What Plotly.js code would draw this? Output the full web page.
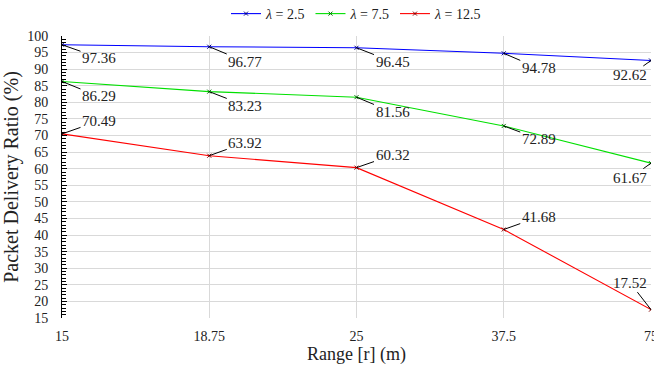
<!DOCTYPE html>
<html>
<head>
<meta charset="utf-8">
<script src="https://cdn.plot.ly/plotly-3.0.1.min.js"></script>
<style>html,body{margin:0;padding:0;background:#fff;}#chart{width:654px;height:370px;}</style>
</head>
<body>
<div id="chart"></div>
<script>
const ranges = ['15', '18.75', '25', '37.5', '75'];
const seriesNames = ['<i>λ</i> = 2.5', '<i>λ</i> = 7.5', '<i>λ</i> = 12.5'];
const pdrLambda2_5 = [97.36, 96.77, 96.45, 94.78, 92.62];
const pdrLambda7_5 = [86.29, 83.23, 81.56, 72.89, 61.67];
const pdrLambda12_5 = [70.49, 63.92, 60.32, 41.68, 17.52];
const yTicks = [15,20,25,30,35,40,45,50,55,60,65,70,75,80,85,90,95,100];

const colors = ['#0000FF', '#00E000', '#FF0000'];
const markerColors = ['#000080', '#007000', '#800000'];
const allSeries = [pdrLambda2_5, pdrLambda7_5, pdrLambda12_5];

// label offsets (pixels) per series per point
const offsets = [
  [[37,13],[36,15],[36,14],[35,15],[-21,15]],
  [[37,15],[36,14],[36,15],[35,13],[-21,15]],
  [[37,-13],[36,-13],[36,-12.5],[35,-12.5],[-21,-27]]
];

const traces = allSeries.map((ys, i) => ({
  x: ranges, y: ys, type: 'scatter', mode: 'lines+markers',
  name: seriesNames[i],
  line: {color: colors[i], width: 1.1},
  marker: {symbol: 'x-thin', size: 4, line: {color: markerColors[i], width: 1}, color: markerColors[i]}
}));

const annotations = [];
allSeries.forEach((ys, i) => {
  ys.forEach((v, j) => {
    annotations.push({
      x: j, y: v, xref: 'x', yref: 'y',
      text: v.toFixed(2), showarrow: true,
      ax: offsets[i][j][0], ay: offsets[i][j][1],
      arrowhead: 0, arrowwidth: 1, arrowcolor: '#000', standoff: 0,
      font: {family: 'Liberation Serif, Times New Roman, serif', size: 15, color: '#222'}
    });
  });
});

const layout = {
  width: 654, height: 370,
  margin: {l: 62, r: 3, t: 36, b: 52, autoexpand: false},
  paper_bgcolor: '#fff', plot_bgcolor: '#fff',
  font: {family: 'Liberation Serif, Times New Roman, serif', color: '#222'},
  showlegend: true,
  legend: {orientation: 'h', x: 0.5, xanchor: 'center', y: 1.078, yanchor: 'middle',
           font: {size: 14}, itemwidth: 30, tracegroupgap: 0},
  xaxis: {
    type: 'category', range: [0, 4],
    showgrid: true, gridcolor: '#d9d9d9', gridwidth: 1,
    showline: false, zeroline: false, ticks: '',
    tickfont: {size: 14}, ticklabelstandoff: 8,
    title: {text: 'Range [r] (m)', font: {size: 18}, standoff: 4}
  },
  yaxis: {
    range: [15, 100], tickvals: yTicks, ticktext: yTicks.map(String),
    showgrid: true, gridcolor: '#d9d9d9', gridwidth: 1,
    showline: true, linecolor: '#000', linewidth: 1, zeroline: false,
    ticks: 'inside', ticklen: 5, tickcolor: '#000',
    minor: {dtick: 1, ticks: 'inside', ticklen: 4, tickcolor: '#000', showgrid: false},
    tickfont: {size: 14}, ticklabelstandoff: 10,
    title: {text: 'Packet Delivery Ratio (%)', font: {size: 20}, standoff: 6}
  },
  annotations: annotations
};

Plotly.newPlot('chart', traces, layout, {displayModeBar: false, staticPlot: true});
</script>
</body>
</html>
